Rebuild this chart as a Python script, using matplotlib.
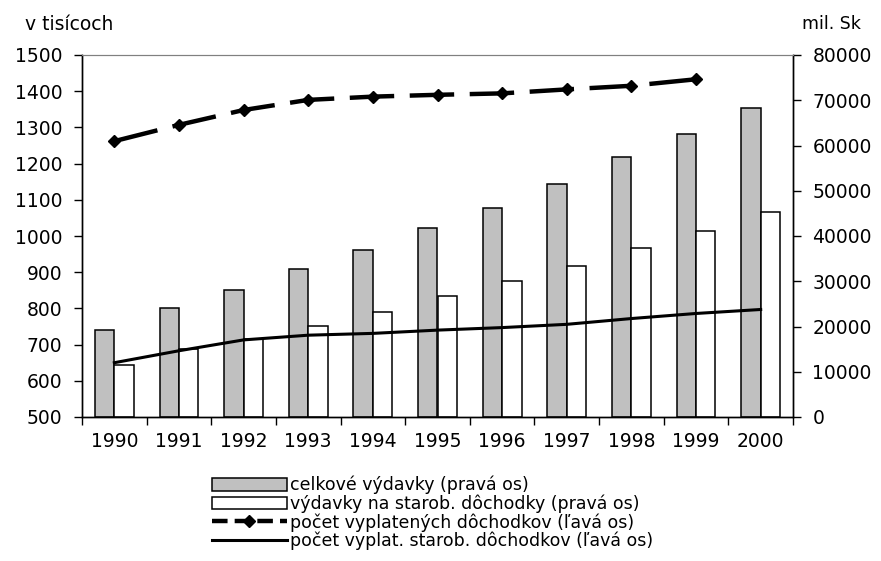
import numpy as np
import matplotlib
matplotlib.use("Agg")
import matplotlib.pyplot as plt
from matplotlib.patches import Patch
from matplotlib.lines import Line2D

plt.rcParams['font.family'] = ['DejaVu Sans']

years = ['1990', '1991', '1992', '1993', '1994', '1995', '1996', '1997', '1998', '1999', '2000']
celkove_vydavky = [19200, 24000, 28000, 32800, 37000, 41800, 46200, 51400, 57400, 62600, 68300]
starob_vydavky = [11600, 15000, 17200, 20100, 23100, 26800, 30000, 33400, 37400, 41200, 45400]
pocet_vyplatenych = [1262, 1307, 1348, 1376, 1385, 1390, 1394, 1405, 1415, 1433]
pocet_starob = [650, 683, 713, 726, 731, 740, 747, 756, 772, 786, 797]

labels = ['celkové výdavky (pravá os)',
          'výdavky na starob. dôchodky (pravá os)',
          'počet vyplatených dôchodkov (ľavá os)',
          'počet vyplat. starob. dôchodkov (ľavá os)']

fig = plt.figure(figsize=(8.81, 5.61), dpi=100)
ax = fig.add_axes([82/881, 1-417/561, (793-82)/881, (417-55)/561])
ax2 = ax.twinx()

x = np.arange(len(years))
w = 0.3
ax2.bar(x - w/2, celkove_vydavky, width=w, color='#c0c0c0', edgecolor='black', linewidth=1.1)
ax2.bar(x + w/2, starob_vydavky, width=w, color='white', edgecolor='black', linewidth=1.1)

ax.plot(x[:len(pocet_vyplatenych)], pocet_vyplatenych, color='black', lw=3.2, dashes=(10, 3.5),
        marker='D', markersize=6)
ax.plot(x, pocet_starob, color='black', lw=2.2)

ax.set_zorder(ax2.get_zorder() + 1)
ax.patch.set_visible(False)

ax.set_xlim(-0.5, 10.5)
ax.set_ylim(500, 1500)
ax2.set_ylim(0, 80000)
ax.set_yticks(np.arange(500, 1501, 100))
ax2.set_yticks(np.arange(0, 80001, 10000))

ax.set_xticks(x)
ax.set_xticklabels(years)
ax.set_xticks(np.arange(-0.5, 11, 1), minor=True)
ax.tick_params(axis='x', which='major', length=0, pad=11, labelsize=13.5)
ax.tick_params(axis='x', which='minor', length=6, width=1, direction='out')
ax.tick_params(axis='y', length=6, width=1, pad=8, labelsize=13.5)
ax2.tick_params(axis='y', length=6, width=1, pad=8, labelsize=13.5)

for a in (ax, ax2):
    a.spines['top'].set_color('#808080')
    a.spines['top'].set_linewidth(0.8)
    for s in ('left', 'right', 'bottom'):
        a.spines[s].set_linewidth(1.0)

fig.text(25/881, 1-24/561, 'v tisícoch', fontsize=13.5, ha='left', va='center')
fig.text(802/881, 1-24/561, 'mil. Sk', fontsize=12.5, ha='left', va='center')

handles = [Patch(facecolor='#c0c0c0', edgecolor='black', linewidth=1.1),
           Patch(facecolor='white', edgecolor='black', linewidth=1.1),
           Line2D([], [], color='black', lw=3.2, dashes=(3.5, 1.6), marker='D', markersize=6),
           Line2D([], [], color='black', lw=2.2)]
fig.legend(handles, labels, loc='upper left', bbox_to_anchor=(212/881, 1-476/561),
           frameon=False, fontsize=12.5, borderpad=0, borderaxespad=0, labelspacing=0,
           handlelength=4.3, handletextpad=0.2, numpoints=1)

fig.savefig('out.png', dpi=100)
